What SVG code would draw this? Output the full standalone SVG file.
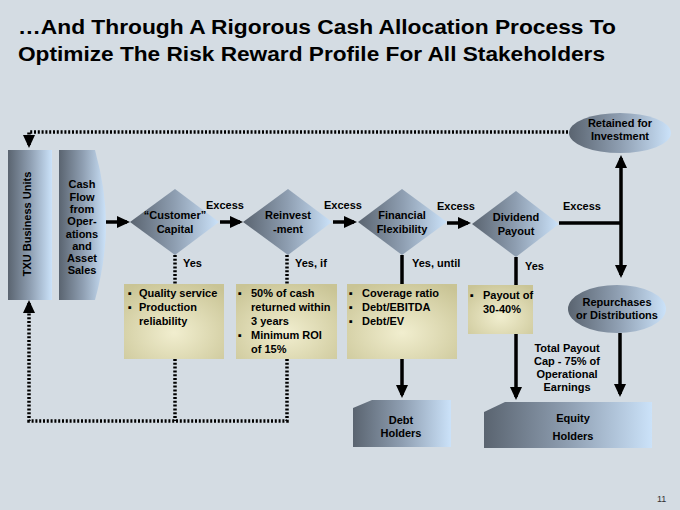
<svg xmlns="http://www.w3.org/2000/svg" width="680" height="510" viewBox="0 0 680 510">
<defs>
<linearGradient id="g" x1="0" y1="0" x2="1" y2="0">
<stop offset="0" stop-color="#5a6470"/>
<stop offset="0.5" stop-color="#8e9eb1"/>
<stop offset="1" stop-color="#cbe2f9"/>
</linearGradient>
<radialGradient id="tan" cx="0.5" cy="0.65" r="0.75">
<stop offset="0" stop-color="#f1eecf"/>
<stop offset="1" stop-color="#c9c495"/>
</radialGradient>
<marker id="ah" viewBox="0 0 13 12" refX="10" refY="6" markerWidth="13" markerHeight="12" markerUnits="userSpaceOnUse" orient="auto">
<path d="M0,0 L13,6 L0,12 Z" fill="#000"/>
</marker>
<style>
.t{font-family:"Liberation Sans",Arial,sans-serif;font-weight:bold;font-size:11px;fill:#000}
.c{text-anchor:middle}
.title{font-family:"Liberation Sans",Arial,sans-serif;font-weight:bold;font-size:20px;fill:#000}
.node{fill:url(#g)}
.box{fill:url(#tan)}
.sol{fill:none;stroke:#000;stroke-width:3.5}
.dot{fill:none;stroke:#000;stroke-width:3.5;stroke-dasharray:2 1.8}
.arr{marker-end:url(#ah)}
</style>
</defs>
<rect width="680" height="510" fill="#d4dce3"/>
<text class="title" x="18" y="34" textLength="598" lengthAdjust="spacingAndGlyphs">…And Through A Rigorous Cash Allocation Process To</text>
<text class="title" x="18" y="61" textLength="587" lengthAdjust="spacingAndGlyphs">Optimize The Risk Reward Profile For All Stakeholders</text>

<g id="connectors">
<path class="sol arr" d="M106,222 H127"/>
<path class="sol arr" d="M220,222 H240"/>
<path class="sol arr" d="M333,222 H354"/>
<path class="sol arr" d="M447,223 H468"/>
<path class="sol" d="M559,223 H621"/>
<path class="sol arr" d="M621,223 V158"/>
<path class="sol arr" d="M621,223 V275"/>
<path class="dot arr" d="M568,132 H29 V145"/>
<path class="dot arr" d="M287,359 V421 H29 V303"/>
<path class="dot" d="M175,359 V421"/>
<path class="dot" d="M175,255 V284"/>
<path class="dot" d="M287,255 V284"/>
<path class="sol" d="M402,255 V284"/>
<path class="sol" d="M516,257 V285"/>
<path class="sol arr" d="M402,359 V395"/>
<path class="sol arr" d="M516,334 V397"/>
<path class="sol arr" d="M620,333 V394"/>
<text class="t c" x="225" y="209">Excess</text>
<text class="t c" x="343" y="209">Excess</text>
<text class="t c" x="456" y="210">Excess</text>
<text class="t c" x="582" y="210">Excess</text>
<text class="t" x="183" y="267">Yes</text>
<text class="t" x="295" y="267">Yes, if</text>
<text class="t" x="412" y="267">Yes, until</text>
<text class="t" x="525" y="270">Yes</text>
<text class="t c" x="567" y="352">Total Payout</text>
<text class="t c" x="567" y="365">Cap - 75% of</text>
<text class="t c" x="567" y="378">Operational</text>
<text class="t c" x="567" y="391">Earnings</text>
</g>

<g id="txu">
<rect class="node" x="8" y="150" width="44" height="150"/>
<text class="t c" transform="translate(31,224) rotate(-90)">TXU Business Units</text>
</g>

<g id="cashflow">
<path class="node" d="M59,150 H95 Q106,190 106,225 Q106,260 95,300 H59 Z"/>
<text class="t c" x="82" y="188">Cash</text>
<text class="t c" x="82" y="200.5">Flow</text>
<text class="t c" x="82" y="213">from</text>
<text class="t c" x="82" y="225">Oper-</text>
<text class="t c" x="82" y="237.5">ations</text>
<text class="t c" x="82" y="250">and</text>
<text class="t c" x="82" y="262">Asset</text>
<text class="t c" x="82" y="274">Sales</text>
</g>

<g id="customer-capital">
<polygon class="node" points="130,222 175,189 219,222 175,255"/>
<text class="t c" x="175" y="219">“Customer”</text>
<text class="t c" x="175" y="233">Capital</text>
</g>

<g id="reinvestment">
<polygon class="node" points="243,222 288,189 332,222 288,255"/>
<text class="t c" x="288" y="219">Reinvest</text>
<text class="t c" x="288" y="233">-ment</text>
</g>

<g id="financial-flexibility">
<polygon class="node" points="358,222 402,189 447,222 402,255"/>
<text class="t c" x="402" y="219">Financial</text>
<text class="t c" x="402" y="233">Flexibility</text>
</g>

<g id="dividend-payout">
<polygon class="node" points="472,224 516,191 559,224 516,257"/>
<text class="t c" x="516" y="221">Dividend</text>
<text class="t c" x="516" y="235">Payout</text>
</g>

<g id="retained">
<ellipse class="node" cx="620" cy="133" rx="51" ry="20"/>
<text class="t c" x="620" y="127">Retained for</text>
<text class="t c" x="620" y="140">Investment</text>
</g>

<g id="repurchases">
<ellipse class="node" cx="617" cy="309" rx="49" ry="24"/>
<text class="t c" x="617" y="306">Repurchases</text>
<text class="t c" x="617" y="319">or Distributions</text>
</g>

<g id="box-customer">
<rect class="box" x="124" y="284" width="100" height="75"/>
<text class="t" x="128" y="297">▪</text>
<text class="t" x="139" y="297">Quality service</text>
<text class="t" x="128" y="311">▪</text>
<text class="t" x="139" y="311">Production</text>
<text class="t" x="139" y="325">reliability</text>
</g>

<g id="box-reinvest">
<rect class="box" x="236" y="284" width="101" height="75"/>
<text class="t" x="238" y="297">▪</text>
<text class="t" x="251" y="297">50% of cash</text>
<text class="t" x="251" y="311">returned within</text>
<text class="t" x="251" y="325">3 years</text>
<text class="t" x="238" y="339">▪</text>
<text class="t" x="251" y="339">Minimum ROI</text>
<text class="t" x="251" y="353">of 15%</text>
</g>

<g id="box-financial">
<rect class="box" x="347" y="284" width="110" height="75"/>
<text class="t" x="349" y="297">▪</text>
<text class="t" x="362" y="297">Coverage ratio</text>
<text class="t" x="349" y="311">▪</text>
<text class="t" x="362" y="311">Debt/EBITDA</text>
<text class="t" x="349" y="325">▪</text>
<text class="t" x="362" y="325">Debt/EV</text>
</g>

<g id="box-dividend">
<rect class="box" x="468" y="285" width="65" height="49"/>
<text class="t" x="470" y="299">▪</text>
<text class="t" x="483" y="299">Payout of</text>
<text class="t" x="483" y="313">30-40%</text>
</g>

<g id="debt-holders">
<path class="node" d="M353,408 L372,400 H451 V447 H353 Z"/>
<text class="t c" x="401" y="424">Debt</text>
<text class="t c" x="401" y="437">Holders</text>
</g>

<g id="equity-holders">
<path class="node" d="M484,412 L505,402 H652 V448 H484 Z"/>
<text class="t c" x="573" y="422">Equity</text>
<text class="t c" x="573" y="440">Holders</text>
</g>

<text x="657" y="502" style="font-family:'Liberation Sans',Arial,sans-serif;font-size:9px;fill:#333">11</text>
</svg>
